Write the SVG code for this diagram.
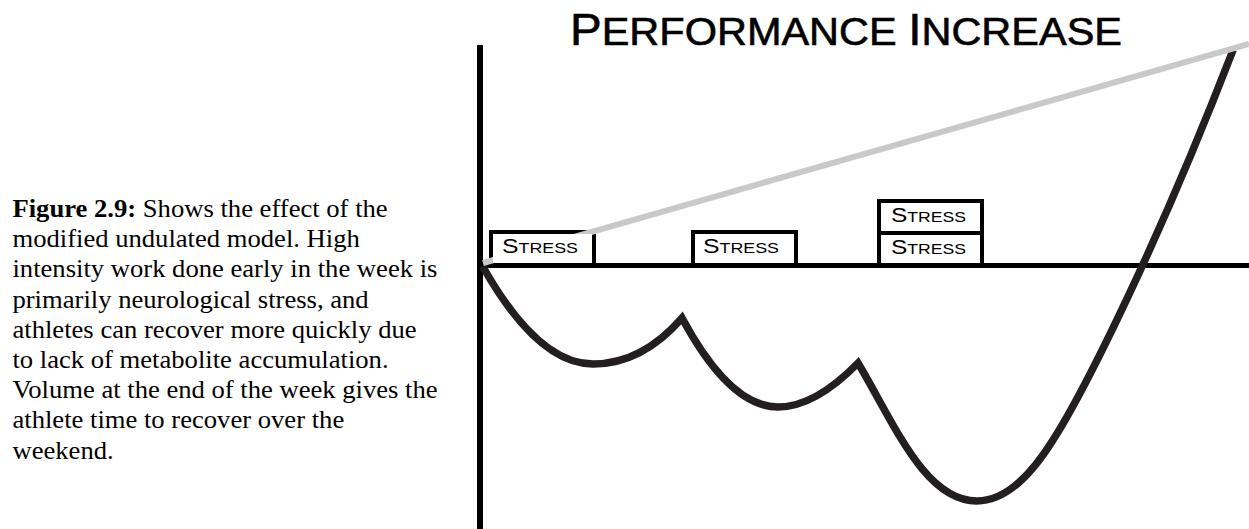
<svg xmlns="http://www.w3.org/2000/svg" width="1249" height="529" viewBox="0 0 1249 529">
  <style>
    .caption { font-family: "Liberation Serif", "Times New Roman", serif; font-size: 25px; fill: #000; }
    .caption .b { font-weight: bold; }
    .title { font-family: "Liberation Sans", Arial, sans-serif; fill: #000; stroke: #000; stroke-width: 0.6; }
    .box rect { fill: #fff; stroke: #000; stroke-width: 4; }
    .box text { font-family: "Liberation Sans", Arial, sans-serif; fill: #000; }
    .axis { stroke: #000; fill: none; }
    .curve { stroke: #231f20; stroke-width: 7.5; fill: none; stroke-linejoin: miter; }
    .trend { stroke: #c9c9c9; stroke-width: 6; fill: none; }
  </style>

  <defs>
    <!-- the curve is cut flat at its top end -->
    <clipPath id="curve-clip">
      <rect x="470" y="51" width="779" height="478"/>
    </clipPath>
    <!-- the trend line runs behind the inside of the first box -->
    <mask id="trend-mask">
      <rect width="1249" height="529" fill="#fff"/>
      <rect x="493" y="234" width="99" height="29" fill="#000"/>
    </mask>
  </defs>

  <rect width="1249" height="529" fill="#fff"/>

  <!-- caption, widened slightly to the printed measure -->
  <g id="caption" class="caption" transform="scale(1.065,1)">
    <text x="11.7" y="217"><tspan class="b">Figure 2.9:</tspan> Shows the effect of the</text>
    <text x="11.7" y="247.2">modified undulated model. High</text>
    <text x="11.7" y="277.4">intensity work done early in the week is</text>
    <text x="11.7" y="307.6">primarily neurological stress, and</text>
    <text x="11.7" y="337.8">athletes can recover more quickly due</text>
    <text x="11.7" y="368">to lack of metabolite accumulation.</text>
    <text x="11.7" y="398.2">Volume at the end of the week gives the</text>
    <text x="11.7" y="428.4">athlete time to recover over the</text>
    <text x="11.7" y="458.6">weekend.</text>
  </g>

  <!-- title -->
  <g id="title" class="title">
    <text x="570" y="45" textLength="552" lengthAdjust="spacingAndGlyphs"><tspan font-size="44.7">P</tspan><tspan font-size="39">ERFORMANCE </tspan><tspan font-size="44.7">I</tspan><tspan font-size="39">NCREASE</tspan></text>
  </g>

  <!-- stress boxes -->
  <g id="stress-1" class="box">
    <rect x="491" y="232" width="103" height="33"/>
    <text x="502" y="253" textLength="76" lengthAdjust="spacingAndGlyphs"><tspan font-size="19.5">S</tspan><tspan font-size="14">TRESS</tspan></text>
  </g>
  <g id="stress-2" class="box">
    <rect x="693" y="232" width="103" height="33"/>
    <text x="703" y="253" textLength="76" lengthAdjust="spacingAndGlyphs"><tspan font-size="19.5">S</tspan><tspan font-size="14">TRESS</tspan></text>
  </g>
  <g id="stress-3" class="box">
    <rect x="879" y="233" width="103" height="32"/>
    <text x="891" y="254" textLength="75" lengthAdjust="spacingAndGlyphs"><tspan font-size="19.5">S</tspan><tspan font-size="14">TRESS</tspan></text>
  </g>
  <g id="stress-4" class="box">
    <rect x="879" y="201" width="103" height="32"/>
    <text x="891" y="222" textLength="75" lengthAdjust="spacingAndGlyphs"><tspan font-size="19.5">S</tspan><tspan font-size="14">TRESS</tspan></text>
  </g>

  <!-- axes, fatigue curve and trend line -->
  <g id="connectors">
    <line class="axis" x1="480" y1="45" x2="480" y2="529" stroke-width="6"/>
    <line class="axis" x1="477" y1="265.5" x2="1249" y2="265.5" stroke-width="5"/>
    <path class="curve" clip-path="url(#curve-clip)" d="M483,267 Q538,364 593,364 Q642,364 682,318 Q730,407 778,407 Q815,407 858,363 C895,425 925,501 977,501 Q1015,501 1053,440 C1085,390 1160,240 1235,45"/>
    <line class="trend" mask="url(#trend-mask)" x1="483" y1="263" x2="1249" y2="44"/>
  </g>
</svg>
